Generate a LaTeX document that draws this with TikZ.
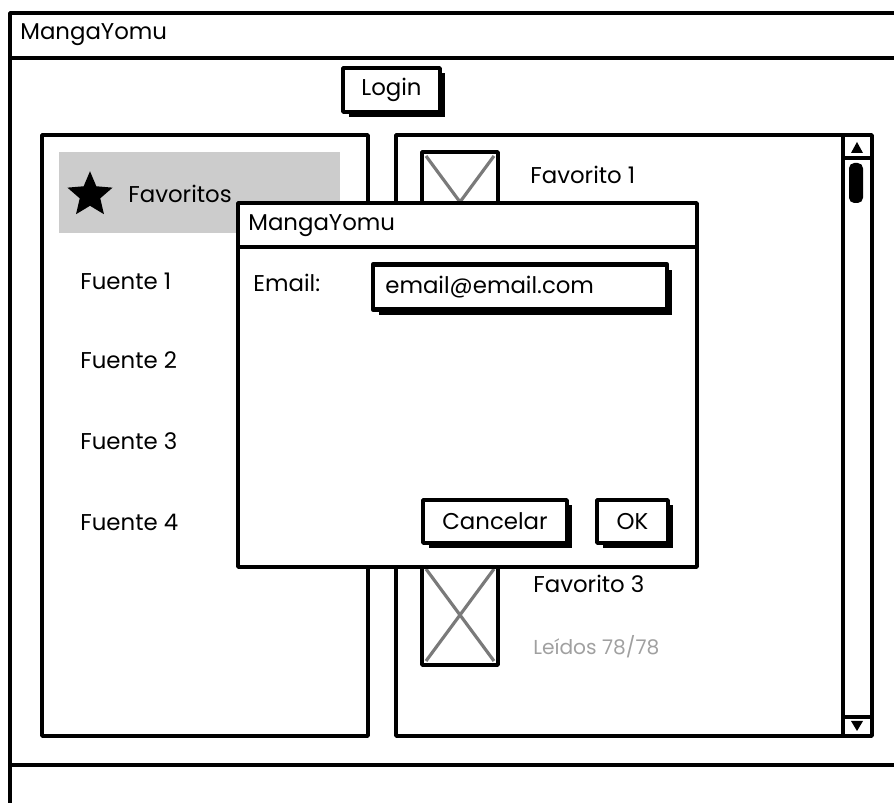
\documentclass[tikz,border=0pt]{standalone}
\usepackage{fontspec}
\setmainfont{Poppins}
\usetikzlibrary{shapes.geometric,shadows,positioning}
\definecolor{grisFondo}{HTML}{CCCCCC}
\definecolor{grisTexto}{HTML}{A0A0A0}
\definecolor{grisX}{HTML}{7A7A7A}

\begin{document}
\begin{tikzpicture}[x=0.02cm,y=-0.02cm,
    borde/.style={line width=2pt,line join=round},
    boton/.style={borde,draw,fill=white,inner sep=0pt,font=\fontsize{13}{15}\selectfont,
      drop shadow={shadow xshift=.11cm,shadow yshift=-.11cm,opacity=1,fill=black}},
    etiqueta/.style={anchor=west,inner sep=0pt,font=\fontsize{13}{15}\selectfont},
    imagen/.style={draw=grisX,line width=1.8pt}]
  \useasboundingbox (0,0) rectangle (894,803);
  \clip (0,0) rectangle (894,803);

  % ventana principal
  \draw[borde] (10,810) -- (10,13) -- (900,13);
  \draw[borde] (10,58) -- (900,58);
  \draw[borde] (10,765) -- (900,765);
  \node[etiqueta] (tituloApp) at (20,35) {MangaYomu};
  \node[boton,minimum width=1.94cm,minimum height=.88cm] (login) at (391.5,90) {Login};

  % panel de fuentes
  \draw[borde] (42,135) rectangle (368,736);
  \fill[grisFondo] (59,152) rectangle (340,233);
  \node[star,star points=5,star point ratio=2.2,fill=black,minimum size=.95cm,inner sep=0pt] (estrella) at (90,195) {};
  \node[etiqueta] (favoritos) at (128,194) {Favoritos};
  \foreach \i/\y in {1/281,2/360,3/441,4/522}
    \node[etiqueta] (fuente\i) at (80,\y) {Fuente \i};

  % panel de favoritos
  \draw[borde] (396,135) rectangle (872,736);
  \draw[borde] (843,137) -- (843,735);
  \draw[borde] (843,158) -- (871,158);
  \draw[borde] (843,717) -- (871,717);
  \fill (857,142) -- (863,153) -- (851,153) -- cycle;
  \fill (857,731) -- (863,721) -- (851,721) -- cycle;
  \fill[rounded corners=3pt] (849,163) rectangle (863,203);
  \foreach \y in {152,565} {
    \draw[borde] (422,\y) rectangle (498,\y+100);
    \draw[imagen] (426,\y+4) -- (494,\y+96) (494,\y+4) -- (426,\y+96);
  }
  \node[etiqueta] (favorito1) at (530,175) {Favorito 1};
  \node[etiqueta] (favorito3) at (533,584) {Favorito 3};
  \node[etiqueta,text=grisTexto,font=\fontsize{11.5}{13}\selectfont] (leidos3) at (533,647) {Leídos 78/78};

  % dialogo de login
  \draw[borde,fill=white] (238,203) rectangle (697,567);
  \draw[borde] (238,247) -- (697,247);
  \node[etiqueta] (tituloDialogo) at (248,226) {MangaYomu};
  \node[etiqueta] (email) at (253,283) {Email:};
  \node[boton,line width=2.6pt,minimum width=5.88cm,minimum height=.9cm,
    drop shadow={shadow xshift=.03cm,shadow yshift=-.03cm,opacity=1,fill=black}] (campoEmail) at (520,287) {};
  \node[etiqueta] (valorEmail) at (385,287) {email@email.com};
  \node[boton,minimum width=2.88cm,minimum height=.86cm] (cancelar) at (495,521.5) {Cancelar};
  \node[boton,minimum width=1.42cm,minimum height=.86cm] (ok) at (632.5,521.5) {OK};
\end{tikzpicture}
\end{document}
